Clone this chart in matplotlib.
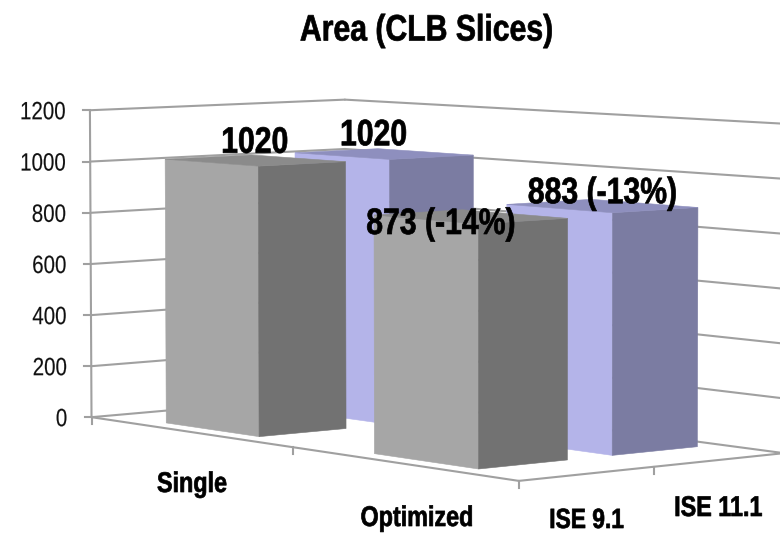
import numpy as np
import matplotlib
matplotlib.use("Agg")
import matplotlib.pyplot as plt
from matplotlib.patches import Polygon
from matplotlib.patheffects import AbstractPathEffect
from matplotlib.transforms import Affine2D

# Chart content
title = "Area (CLB Slices)"
categories = ["Single", "Optimized"]
series_names = ["ISE 9.1", "ISE 11.1"]
ise91_values = [1020, 873]
ise111_values = [1020, 883]
ise91_labels = ["1020", "873 (-14%)"]
ise111_labels = ["1020", "883 (-13%)"]
value_ticks = [0, 200, 400, 600, 800, 1000, 1200]

# Perspective camera fitted on the box corners: (category, series, value) -> canvas
box_world = np.array([
    (0, 0, 0), (1, 0, 0), (2, 0, 0), (2, 1, 0), (2, 2, 0), (0, 2, 0),
    (0, 0, 1200), (0, 0, 1000), (0, 2, 1200), (0, 2, 1000), (2, 2, 1200), (2, 2, 1000),
], float)
box_canvas = np.array([
    (92, 417), (293, 448), (519, 481), (653, 467), (785, 452), (345, 395),
    (90, 110), (90, 161), (345, 100), (345, 149), (785, 124), (785, 179),
], float)


def fit_camera(world, canvas):
    rows, rhs = [], []
    for (u, v, h), (x, y) in zip(world, canvas):
        h = h / 1000
        rows.append([u, v, h, 1, 0, 0, 0, 0, -x * u, -x * v, -x * h])
        rows.append([0, 0, 0, 0, u, v, h, 1, -y * u, -y * v, -y * h])
        rhs += [x, y]
    sol = np.linalg.lstsq(np.array(rows), np.array(rhs), rcond=None)[0]
    return np.append(sol, 1).reshape(3, 4)


CAMERA = fit_camera(box_world, box_canvas)


def project(u, v, value):
    p = CAMERA @ np.array([u, v, value / 1000, 1.0])
    return p[0] / p[2], p[1] / p[2]


class Condensed(AbstractPathEffect):
    """Squeezes a text run horizontally, keeping its centre or right end in place.
    A thin outline restores the stem weight lost to the squeeze."""

    def __init__(self, factor=0.82, anchor="center", stroke=0.0):
        super().__init__()
        self.factor = factor
        self.anchor = anchor
        self.stroke = stroke

    def draw_path(self, renderer, gc, tpath, affine, rgbFace=None):
        box = tpath.transformed(affine).get_extents()
        x0 = box.x1 if self.anchor == "right" else 0.5 * (box.x0 + box.x1)
        squeeze = Affine2D().translate(-x0, 0).scale(self.factor, 1).translate(x0, 0)
        gc_text = renderer.new_gc()
        gc_text.copy_properties(gc)
        gc_text.set_linewidth(self.stroke)
        if rgbFace is not None:
            gc_text.set_foreground(rgbFace)
        renderer.draw_path(gc_text, tpath, affine + squeeze, rgbFace)
        gc_text.restore()


FONT = ["Liberation Sans", "DejaVu Sans"]
GRID = "#a0a0a0"
GRAY = ("#a6a6a6", "#727272", "#8b8b8b")
BLUE = ("#b4b4e9", "#7b7ca2", "#8e8fbe")

fig = plt.figure(figsize=(7.8, 5.35), dpi=100, facecolor="white")
ax = fig.add_axes([0, 0, 1, 1])
ax.set_xlim(0, 780)
ax.set_ylim(535, 0)
ax.axis("off")


def label(x, y, text, size, bold=True, ha="center", zorder=10, color="black"):
    ax.text(x, y, text, family=FONT, fontsize=size, fontweight="bold" if bold else "normal",
            ha=ha, va="center", color=color, zorder=zorder,
            path_effects=[Condensed(anchor=ha, stroke=0.5 if bold else 0.1)])


def segment(a, b, width=1.5):
    ax.plot(*zip(project(*a), project(*b)), color=GRID, lw=width,
            solid_capstyle="round", zorder=1)


# Walls: gridlines run along the left wall, then the back wall
for t in value_ticks:
    segment((0, 0, t), (0, 2, t))
    segment((0, 2, t), (2.1, 2, t))
    x, y = project(0, 0, t)
    ax.plot([x - 7, x], [y, y], color=GRID, lw=1.5, zorder=1)
    label(x - 24, y + 2, str(t), 18, bold=False, ha="right", color="#111111")
segment((0, 0, 0), (0, 0, 1200))

# Floor edges with their tick marks
segment((0, 0, 0), (2, 0, 0))
segment((2, 0, 0), (2, 2.1, 0))
for a in [(0, 0, 0), (1, 0, 0), (2, 0, 0), (2, 1, 0)]:
    x, y = project(*a)
    ax.plot([x, x], [y, y + 7], color=GRID, lw=1.5, zorder=1)

BAR_U = (0.27, 0.73)
BAR_V = (0.17, 0.83)


def draw_bar(cat, ser, value, colors, order):
    u0, u1 = cat + BAR_U[0], cat + BAR_U[1]
    v0, v1 = ser + BAR_V[0], ser + BAR_V[1]
    faces = [
        ([(u0, v0, 0), (u1, v0, 0), (u1, v0, value), (u0, v0, value)], colors[0]),
        ([(u1, v0, 0), (u1, v1, 0), (u1, v1, value), (u1, v0, value)], colors[1]),
        ([(u0, v0, value), (u1, v0, value), (u1, v1, value), (u0, v1, value)], colors[2]),
    ]
    for pts, col in faces:
        ax.add_patch(Polygon([project(*p) for p in pts], closed=True, facecolor=col,
                             edgecolor=col, lw=0.4, zorder=order))


# Back to front so nearer bars hide farther ones
draw_bar(0, 1, ise111_values[0], BLUE, 2)
draw_bar(0, 0, ise91_values[0], GRAY, 3)
draw_bar(1, 1, ise111_values[1], BLUE, 4)
draw_bar(1, 0, ise91_values[1], GRAY, 5)


def value_label(cat, ser, value, text, dx, dy):
    x, y = project(cat + 0.49, ser + 0.5, value)
    label(x + dx, y + dy, text, 26.5)


value_label(0, 0, ise91_values[0], ise91_labels[0], 2, -17)
value_label(0, 1, ise111_values[0], ise111_labels[0], -8, -18)
value_label(1, 0, ise91_values[1], ise91_labels[1], -27, 8)
value_label(1, 1, ise111_values[1], ise111_labels[1], 3, -12)

# Category and series names below the floor
label(192, 485, categories[0], 20.5)
label(417, 519, categories[1], 20.5)
label(586.5, 521, series_names[0], 20)
label(718, 509, series_names[1], 20.5)

label(426.5, 31, title, 26.5)

fig.savefig("out.png", dpi=100, facecolor="white")
